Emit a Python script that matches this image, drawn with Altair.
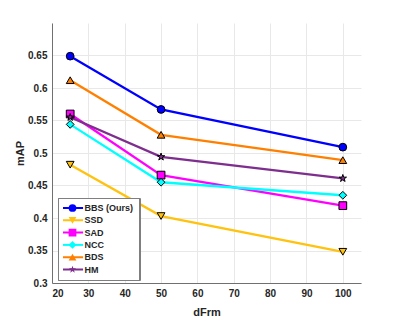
import altair as alt
import pandas as pd

methods = ["BBS (Ours)", "SSD", "SAD", "NCC", "BDS", "HM"]
dfrm = [25, 50, 100]
bbs = [0.649, 0.567, 0.509]
ssd = [0.482, 0.403, 0.348]
sad = [0.560, 0.466, 0.419]
ncc = [0.544, 0.455, 0.435]
bds = [0.612, 0.528, 0.489]
hm = [0.555, 0.494, 0.461]
colors = ["#0000FF", "#FFC20E", "#FF00FF", "#00FFFF", "#FF8000", "#7E2F8E"]
shapes = ["circle", "triangle-down", "square", "diamond", "triangle-up",
          "M0,-1L0.2245,-0.309L0.951,-0.309L0.363,0.118L0.588,0.809L0,0.382L-0.588,0.809L-0.363,0.118L-0.951,-0.309L-0.2245,-0.309Z"]

# line layer uses a separate key so its (line-sample) legend stays separate
line_keys = [m + " " for m in methods]

series = [bbs, ssd, sad, ncc, bds, hm]
rows = []
for m, lk, vals in zip(methods, line_keys, series):
    for x, v in zip(dfrm, vals):
        rows.append({"method": m, "line": lk, "dFrm": x, "mAP": v})
df = pd.DataFrame(rows)

FONT = "Liberation Sans"
TXT = "#262626"

x = alt.X("dFrm:Q", scale=alt.Scale(domain=[20, 105], nice=False, zero=False),
          axis=alt.Axis(title="dFrm", values=list(range(20, 101, 10)), format="d",
                        titlePadding=8))
y = alt.Y("mAP:Q", scale=alt.Scale(domain=[0.3, 0.7], nice=False, zero=False),
          axis=alt.Axis(title="mAP", values=[0.3, 0.35, 0.4, 0.45, 0.5, 0.55, 0.6, 0.65],
                        labelExpr="format(datum.value, '.2~f')", titlePadding=2))

legend_common = dict(orient="none", legendX=6, legendY=175, title=None,
                     labelFont=FONT, labelFontSize=9, labelFontWeight="bold",
                     symbolSize=60, padding=5, symbolOffset=5, labelOffset=7.5,
                     rowPadding=2.3, clipHeight=10, gridAlign="all",
                     strokeColor="#7f7f7f", labelLimit=200)

lines = alt.Chart(df).mark_line(strokeWidth=2.3).encode(
    x=x, y=y,
    stroke=alt.Stroke("line:N", sort=line_keys,
                      scale=alt.Scale(domain=line_keys, range=colors),
                      legend=alt.Legend(symbolType="M-2.6,0L2.6,0", symbolStrokeWidth=2,
                                        labelColor="transparent", fillColor="white",
                                        zindex=1, **legend_common)),
    detail="method:N",
)

points = alt.Chart(df).mark_point(filled=True, size=60, stroke="black", strokeWidth=1,
                                  opacity=1).encode(
    x=x, y=y,
    fill=alt.Fill("method:N", sort=methods,
                  scale=alt.Scale(domain=methods, range=colors),
                  legend=alt.Legend(labelColor=TXT, fillColor="transparent",
                                    symbolStrokeColor="black", symbolStrokeWidth=1,
                                    symbolOpacity=1, zindex=2, **legend_common)),
    shape=alt.Shape("method:N", sort=methods,
                    scale=alt.Scale(domain=methods, range=shapes),
                    legend=alt.Legend(labelColor=TXT, fillColor="transparent",
                                      symbolStrokeColor="black", symbolStrokeWidth=1,
                                      symbolOpacity=1, zindex=2, **legend_common)),
)

chart = alt.layer(lines, points).properties(
    width=309, height=260,
    autosize=alt.AutoSizeParams(type="none"),
    padding={"left": 44, "top": 15, "right": 30, "bottom": 36},
).configure_axis(
    labelFont=FONT, labelFontSize=10, labelFontWeight="bold", labelColor=TXT,
    titleFont=FONT, titleFontSize=11, titleFontWeight="bold", titleColor=TXT,
    gridColor="#e8e8e8", domainColor="#707070", ticks=False, labelPadding=5,
).configure_view(stroke=None)

chart.save("out.html", embed_options={"renderer": "svg", "actions": False})
